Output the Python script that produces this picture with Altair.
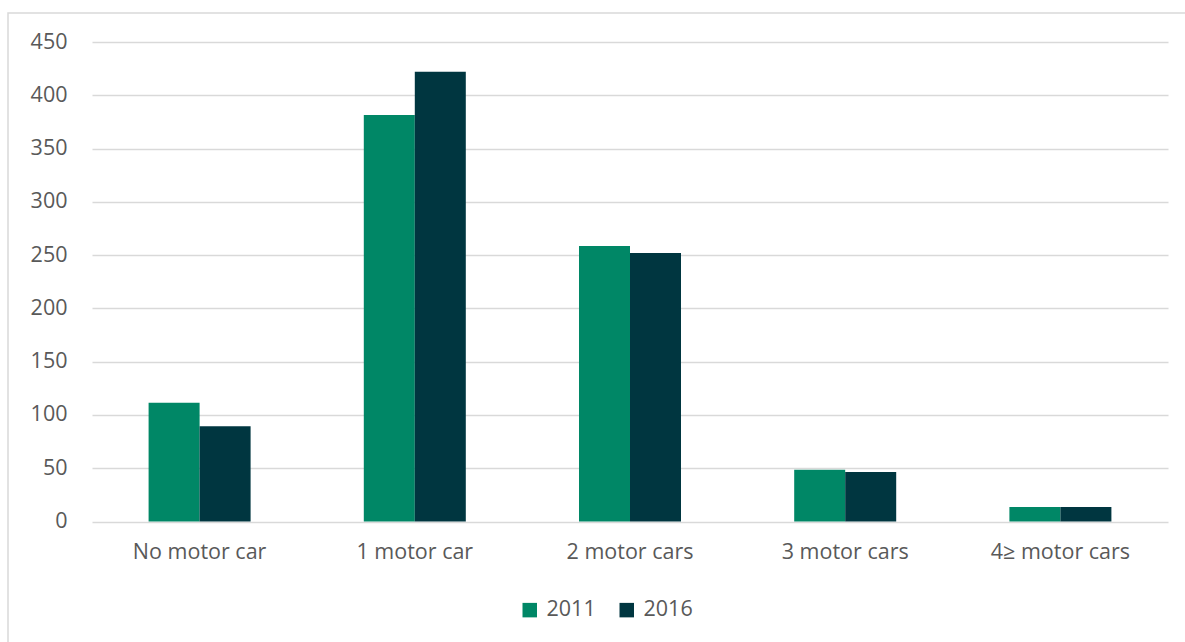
import altair as alt
import pandas as pd

categories = ["No motor car", "1 motor car", "2 motor cars", "3 motor cars", "4≥ motor cars"]
years = ["2011", "2016"]
values_2011 = [111.5, 381.5, 258.5, 48.5, 13.5]
values_2016 = [89.5, 422, 252, 46.5, 13.5]

rows = []
for c, a, b in zip(categories, values_2011, values_2016):
    rows.append({"category": c, "year": "2011", "value": a})
    rows.append({"category": c, "year": "2016", "value": b})
df = pd.DataFrame(rows)

FONT = "Open Sans"
GRAY_TEXT = "#595959"
FS = 21.5

bars = alt.Chart(df).mark_bar().encode(
    x=alt.X("category:N", sort=categories, title=None,
            scale=alt.Scale(paddingInner=0.526, paddingOuter=0.263),
            axis=alt.Axis(labelAngle=0, domain=False, ticks=False, grid=False, labelPadding=20,
                          labelFontSize=FS, labelColor=GRAY_TEXT, labelFont=FONT)),
    xOffset=alt.XOffset("year:N", sort=years, scale=alt.Scale(paddingInner=0, paddingOuter=0)),
    y=alt.Y("value:Q", title=None,
            scale=alt.Scale(domain=[0, 450], nice=False),
            axis=alt.Axis(values=list(range(0, 451, 50)), domain=False, ticks=False,
                          labelPadding=25, labelFontSize=FS, labelColor=GRAY_TEXT,
                          labelFont=FONT, gridColor="#d9d9d9", gridWidth=1.5)),
    color=alt.Color("year:N", sort=years,
                    scale=alt.Scale(domain=years, range=["#008766", "#003640"]),
                    legend=alt.Legend(title=None, orient="none", direction="horizontal",
                                      legendX=427, legendY=557, symbolType="square",
                                      symbolSize=210, symbolStrokeWidth=0,
                                      labelFontSize=FS, labelColor=GRAY_TEXT, labelFont=FONT,
                                      labelOffset=6, columnPadding=20)),
)

border = alt.Chart(alt.Data(values=[{"b": 1}])).mark_rect(
    fill="transparent", stroke="#d9d9d9", strokeWidth=1.5
).encode(
    x=alt.value(-84), x2=alt.value(1110), y=alt.value(-29), y2=alt.value(700)
)

chart = alt.layer(border, bars).properties(
    width=1076, height=479.5,
    background="white",
    autosize=alt.AutoSizeParams(type="none"),
    padding={"left": 92, "top": 42, "right": 17, "bottom": 120},
).configure_view(strokeWidth=0, stroke="transparent")

chart.save("out.html", embed_options={"renderer": "svg", "actions": False})
